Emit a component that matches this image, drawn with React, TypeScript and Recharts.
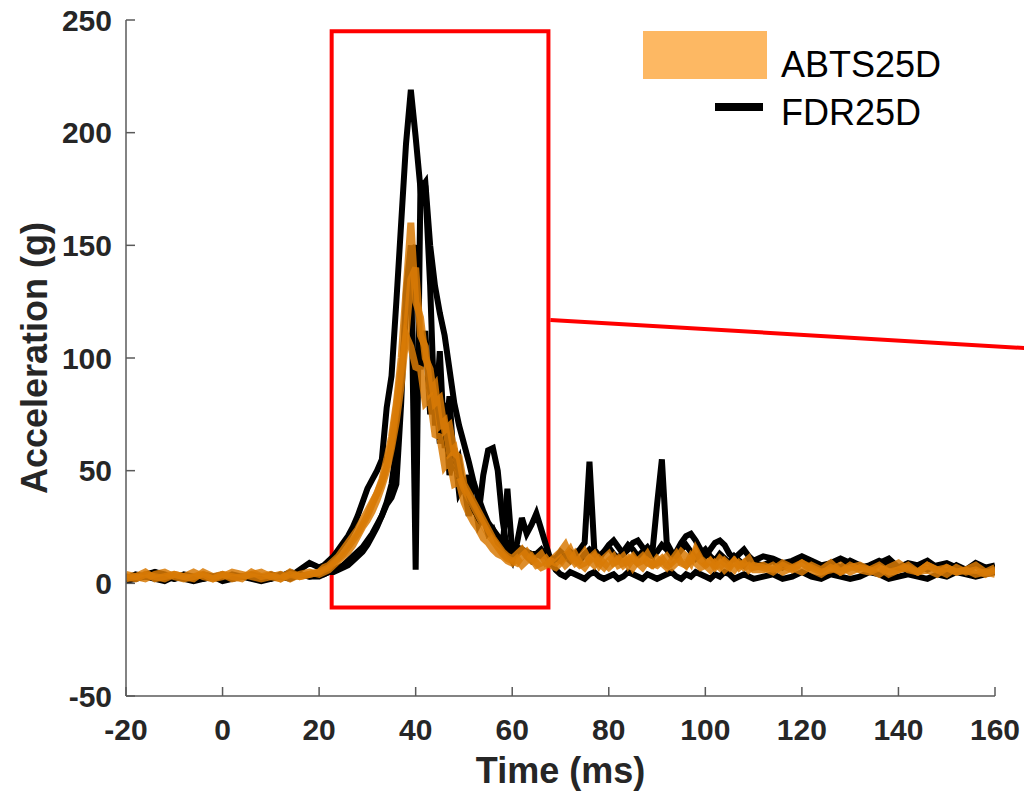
import React from "react";
import {
  LineChart,
  Line,
  XAxis,
  YAxis,
  ReferenceArea,
  ReferenceLine,
  Legend,
} from "recharts";

// time grid (ms): 2 ms before impact, 1 ms through the pulse, 2 ms in the tail
const timeMs = [
  -20, -18, -16, -14, -12, -10, -8, -6, -4, -2, 0, 2, 4, 6, 8, 10, 12, 14, 16, 18,
  20, 21, 22, 23, 24, 25, 26, 27, 28, 29,
  30, 31, 32, 33, 34, 35, 36, 37, 38, 39,
  40, 41, 42, 43, 44, 45, 46, 47, 48, 49,
  50, 51, 52, 53, 54, 55, 56, 57, 58, 59,
  60, 61, 62, 63, 64, 65, 66, 67, 68, 69,
  70, 71, 72, 73, 74, 75, 76, 77, 78, 79,
  80, 81, 82, 83, 84, 85, 86, 87, 88, 89,
  90, 91, 92, 93, 94, 95, 96, 97, 98, 99,
  100, 101, 102, 103, 104, 105, 106, 107, 108, 109, 110,
  112, 114, 116, 118, 120, 122, 124, 126, 128, 130, 132, 134, 136, 138, 140,
  142, 144, 146, 148, 150, 152, 154, 156, 158, 160,
];

// FDR25D runs (g)
const fdrRun1 = [
  2, 4, 3, 5, 3, 2, 4, 3, 2, 3, 4, 2, 3, 4, 3, 2, 4, 3, 6, 9,
  7, 8, 10, 12, 15, 18, 21, 25, 30, 36,
  42, 46, 50, 55, 78, 92, 125, 160, 195, 219,
  198, 175, 178, 150, 132, 120, 110, 95, 80, 70,
  62, 54, 45, 38, 32, 27, 24, 21, 19, 18,
  17, 16, 15, 14, 13, 13, 12, 12, 11, 11,
  10, 12, 14, 12, 10, 13, 15, 13, 11, 14,
  17, 19, 16, 13, 15, 18, 19, 16, 13, 12,
  14, 17, 15, 12, 14, 18, 21, 22, 19, 15,
  12, 15, 18, 19, 17, 13, 11, 13, 15, 12, 10,
  12, 11, 9, 10, 12, 10, 8, 9, 11, 9, 7, 8, 10, 8, 7,
  9, 8, 6, 8, 9, 7, 6, 8, 7, 8,
];

const fdrRun2 = [
  1, 2, 3, 2, 1, 3, 2, 1, 2, 3, 1, 2, 3, 2, 1, 2, 3, 2, 4, 3,
  4, 4, 5, 6, 7, 8, 10, 12, 14, 16,
  19, 22, 26, 30, 35, 38, 44, 80, 130, 150,
  6, 178, 176, 132, 70, 103, 60, 83, 50, 55,
  40, 48, 32, 30, 48, 59, 60, 50, 28, 14,
  10, 18, 29, 22, 26, 31, 24, 17, 10, 6,
  4, 3, 5, 4, 3, 2, 4, 5, 3, 2,
  3, 4, 2, 3, 5, 4, 3, 2, 4, 3,
  2, 3, 4, 5, 3, 2, 4, 3, 5, 4,
  3, 2, 4, 3, 5, 4, 2, 3, 4, 3, 2,
  3, 4, 2, 3, 5, 3, 2, 4, 3, 2, 3, 5, 4, 2, 3,
  4, 3, 2, 4, 3, 5, 4, 3, 4, 5,
];

const fdrRun3 = [
  3, 2, 4, 5, 4, 2, 3, 2, 4, 3, 2, 4, 3, 3, 2, 4, 3, 5, 4, 3,
  3, 4, 5, 5, 6, 7, 8, 10, 12, 14,
  17, 21, 25, 30, 36, 44, 60, 90, 120, 145,
  150, 95, 112, 75, 90, 62, 80, 48, 60, 40,
  44, 30, 38, 26, 30, 22, 24, 18, 16, 42,
  14, 13, 15, 12, 10, 13, 15, 12, 9, 11,
  14, 12, 10, 13, 15, 18, 54, 15, 12, 14,
  16, 13, 11, 14, 17, 15, 12, 14, 16, 13,
  35, 55, 18, 14, 12, 15, 17, 14, 11, 13,
  15, 12, 10, 13, 11, 9, 12, 10, 8, 11, 9,
  8, 10, 7, 9, 11, 8, 6, 9, 7, 10, 8, 6, 9, 11, 7,
  6, 8, 10, 7, 5, 8, 6, 9, 7, 6,
];

// ABTS25D runs (g)
const abtsRun1 = [
  3, 2, 4, 3, 2, 4, 3, 5, 3, 2, 4, 3, 2, 5, 3, 4, 2, 5, 3, 4,
  5, 6, 7, 9, 11, 13, 16, 19, 22, 26,
  30, 35, 40, 46, 55, 65, 80, 100, 130, 160,
  125, 118, 100, 95, 80, 82, 68, 70, 58, 56,
  44, 40, 36, 32, 28, 24, 20, 17, 14, 12,
  11, 13, 15, 12, 10, 11, 13, 9, 10, 12,
  14, 17, 12, 9, 11, 14, 10, 12, 8, 11,
  13, 9, 10, 12, 8, 11, 9, 10, 13, 9,
  8, 10, 12, 9, 11, 14, 12, 9, 15, 11,
  9, 10, 8, 11, 9, 7, 10, 8, 9, 11, 7,
  8, 6, 9, 7, 5, 8, 6, 9, 5, 7, 8, 6, 4, 7, 9,
  6, 5, 8, 6, 7, 5, 6, 8, 5, 7,
];

const abtsRun2 = [
  2, 3, 2, 4, 5, 3, 2, 3, 4, 2, 3, 5, 4, 3, 2, 3, 4, 2, 4, 5,
  4, 5, 6, 8, 10, 12, 14, 17, 21, 25,
  28, 32, 37, 43, 50, 60, 72, 88, 110, 135,
  140, 110, 105, 85, 88, 70, 72, 58, 60, 48,
  42, 38, 34, 30, 26, 22, 19, 16, 13, 11,
  10, 9, 12, 14, 11, 8, 9, 11, 8, 7,
  9, 12, 15, 10, 8, 9, 11, 13, 9, 7,
  10, 12, 8, 9, 11, 7, 10, 12, 9, 8,
  11, 9, 7, 10, 13, 9, 8, 10, 14, 10,
  8, 6, 9, 7, 10, 8, 6, 9, 7, 8, 6,
  6, 8, 5, 7, 9, 6, 4, 7, 5, 8, 6, 5, 7, 4, 6,
  8, 5, 6, 4, 7, 5, 6, 4, 5, 4,
];

const abtsRun3 = [
  4, 3, 5, 2, 3, 4, 3, 2, 5, 3, 4, 2, 3, 4, 5, 3, 2, 4, 3, 4,
  5, 7, 8, 10, 12, 15, 18, 21, 24, 28,
  32, 36, 40, 45, 52, 62, 78, 95, 110, 105,
  96, 95, 80, 82, 66, 65, 52, 55, 44, 45,
  36, 31, 27, 24, 20, 18, 15, 13, 12, 10,
  9, 11, 8, 10, 12, 9, 7, 8, 10, 9,
  11, 8, 10, 13, 9, 7, 10, 8, 11, 9,
  7, 9, 11, 8, 10, 12, 9, 7, 10, 8,
  9, 11, 8, 7, 9, 10, 8, 12, 9, 7,
  8, 10, 7, 9, 6, 8, 10, 7, 9, 6, 8,
  7, 5, 8, 6, 9, 7, 5, 6, 8, 5, 7, 6, 8, 5, 6,
  7, 5, 8, 6, 4, 7, 5, 6, 4, 6,
];

const xTicks = [-20, 0, 20, 40, 60, 80, 100, 120, 140, 160];
const yTicks = [-50, 0, 50, 100, 150, 200, 250];

const data = timeMs.map((t, i) => ({
  t,
  f1: fdrRun1[i],
  f2: fdrRun2[i],
  f3: fdrRun3[i],
  a1: abtsRun1[i],
  a2: abtsRun2[i],
  a3: abtsRun3[i],
}));

const FONT = "'Liberation Sans', Arial, Helvetica, sans-serif";
const TEXT = "#262626";
const AXIS = "#5a5a5a";
const ORANGE = "#d87a06";
const PATCH = "#fdb863";

function LegendBox() {
  return (
    <div style={{ position: "relative", width: 340, height: 100, fontFamily: FONT }}>
      <div style={{ position: "absolute", left: 0, top: 0, width: 124, height: 48, background: PATCH }} />
      <div style={{ position: "absolute", left: 138, top: 14, fontSize: 36, lineHeight: "40px", color: "#000" }}>
        ABTS25D
      </div>
      <div style={{ position: "absolute", left: 72, top: 72, width: 48, height: 8, background: "#000" }} />
      <div style={{ position: "absolute", left: 138, top: 62, fontSize: 36, lineHeight: "40px", color: "#000" }}>
        FDR25D
      </div>
    </div>
  );
}

export default function App() {
  const tickStyle = { fill: TEXT, fontSize: 30, fontWeight: "bold", fontFamily: FONT };
  return (
    <div style={{ position: "absolute", left: 0, top: 0, width: 1024, height: 800, background: "#fff" }}>
      <LineChart width={1024} height={800} data={data} margin={{ top: 20, right: 29, left: 0, bottom: 4 }}>
        <XAxis
          dataKey="t"
          type="number"
          domain={[-20, 160]}
          ticks={xTicks}
          allowDataOverflow
          height={100}
          tickSize={-9}
          tickMargin={32}
          stroke={AXIS}
          strokeWidth={1.5}
          tick={tickStyle}
          label={{
            value: "Time (ms)",
            position: "insideBottom",
            offset: 13,
            fill: TEXT,
            fontSize: 36,
            fontWeight: "bold",
            fontFamily: FONT,
          }}
        />
        <YAxis
          type="number"
          domain={[-50, 250]}
          ticks={yTicks}
          allowDataOverflow
          width={126}
          tickSize={-9}
          tickMargin={23}
          stroke={AXIS}
          strokeWidth={1.5}
          tick={tickStyle}
          label={{
            value: "Acceleration (g)",
            position: "center",
            angle: -90,
            dx: -29,
            fill: TEXT,
            fontSize: 36,
            fontWeight: "bold",
            fontFamily: FONT,
          }}
        />
        <Legend
          layout="horizontal"
          verticalAlign="middle"
          align="center"
          wrapperStyle={{ position: "absolute", left: 643, top: 31, width: 340, height: 100 }}
          content={() => <LegendBox />}
        />

        <Line dataKey="f1" stroke="#000" strokeWidth={6} dot={false} isAnimationActive={false} legendType="none" />
        <Line dataKey="f2" stroke="#000" strokeWidth={6} dot={false} isAnimationActive={false} legendType="none" />
        <Line dataKey="f3" stroke="#000" strokeWidth={6} dot={false} isAnimationActive={false} legendType="none" />
        <Line dataKey="a1" stroke={ORANGE} strokeOpacity={0.85} strokeWidth={7} dot={false} isAnimationActive={false} />
        <Line dataKey="a2" stroke={ORANGE} strokeOpacity={0.85} strokeWidth={7} dot={false} isAnimationActive={false} />
        <Line dataKey="a3" stroke={ORANGE} strokeOpacity={0.85} strokeWidth={7} dot={false} isAnimationActive={false} />

        {/* zoom box around the pulse and its leader line */}
        <ReferenceArea
          x1={22.6}
          x2={67.5}
          y1={-10.7}
          y2={245}
          fill="none"
          fillOpacity={0}
          stroke="#ff0000"
          strokeWidth={4}
          ifOverflow="visible"
        />
        <ReferenceLine
          segment={[
            { x: 67.9, y: 116.9 },
            { x: 169.4, y: 104.0 },
          ]}
          stroke="#ff0000"
          strokeWidth={4}
          ifOverflow="visible"
        />
      </LineChart>
    </div>
  );
}
